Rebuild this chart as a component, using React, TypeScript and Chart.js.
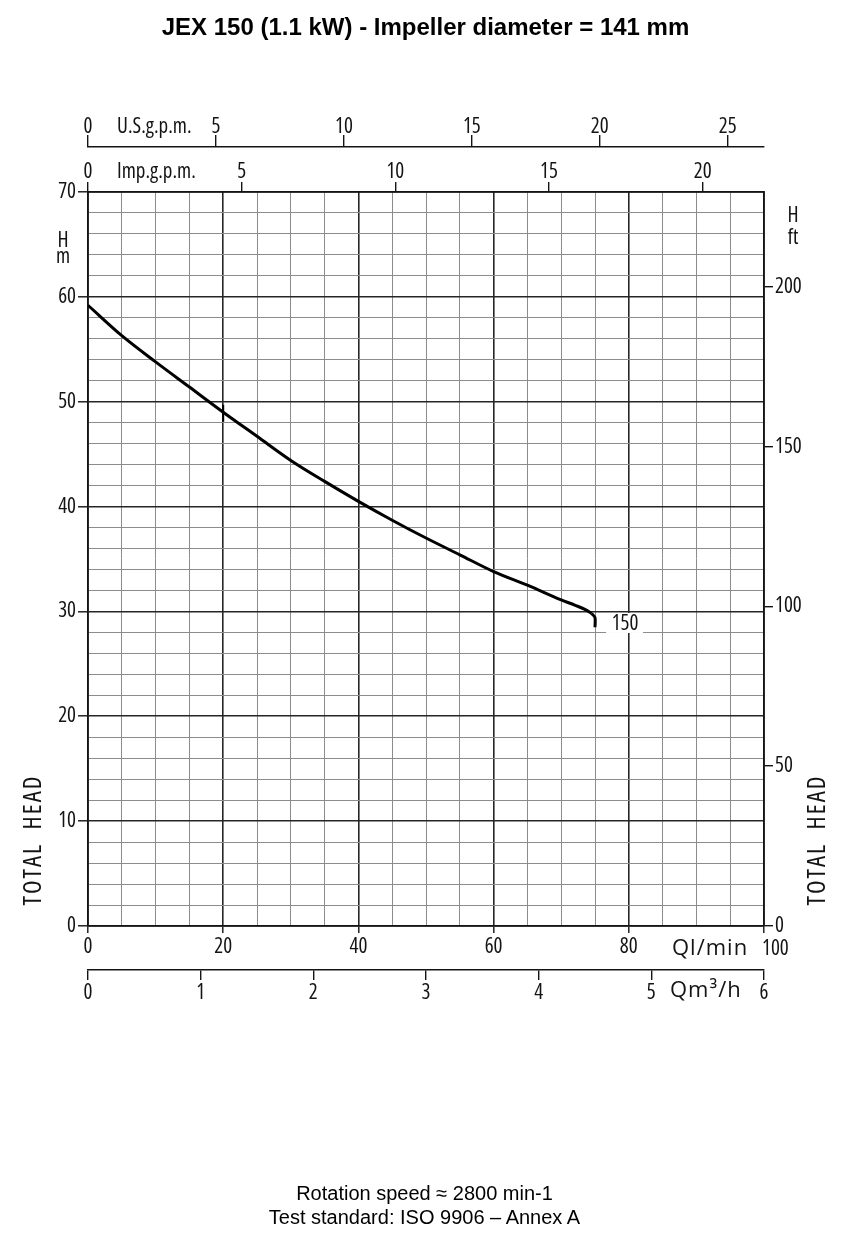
import React, { useEffect, useRef } from 'react';
import { Chart, registerables } from 'chart.js';

Chart.register(...registerables);

// ---- Data ----
const FLOW_LPM = [0, 5, 10, 15, 20, 25, 30, 35, 40, 45, 50, 55, 60, 65, 70, 72, 73.5, 74.5];
const HEAD_M = [59.2, 56.3, 53.8, 51.4, 49.0, 46.7, 44.4, 42.4, 40.5, 38.7, 37.0, 35.4, 33.8, 32.5, 31.1, 30.6, 30.2, 29.8];
const END_FLOW = [74.5, 75, 75];
const END_HEAD = [29.8, 29.4, 28.5];
const MARK_FLOW = [20, 20];
const MARK_HEAD = [49.7, 48.1];

const CURVE_LABEL = '150';
const CURVE_LABEL_AT = { x: 79.3, y: 28.9 };

// ---- Axes / ticks ----
const X_GRID = [0, 5, 10, 15, 20, 25, 30, 35, 40, 45, 50, 55, 60, 65, 70, 75, 80, 85, 90, 95, 100];
const X_LABEL_VALUES = [0, 20, 40, 60, 80, 100];
const Y_GRID = [0, 2, 4, 6, 8, 10, 12, 14, 16, 18, 20, 22, 24, 26, 28, 30, 32, 34, 36, 38, 40, 42, 44, 46, 48, 50, 52, 54, 56, 58, 60, 62, 64, 66, 68, 70];
const Y_LABEL_VALUES = [0, 10, 20, 30, 40, 50, 60, 70];
const IMP_TICKS = [0, 5, 10, 15, 20];
const US_TICKS = [0, 5, 10, 15, 20, 25];
const M3H_TICKS = [0, 1, 2, 3, 4, 5, 6];
const FT_TICKS = [0, 50, 100, 150, 200];

const X_MAX = 100;
const Y_MAX = 70;
const LPM_PER_IMP = 4.54609;
const LPM_PER_US = 3.785411784;
const LPM_PER_M3H = 1000 / 60;
const FT_PER_M = 3.28084;

const TITLE = 'JEX 150 (1.1 kW) - Impeller diameter = 141 mm';
const FOOTER_1 = 'Rotation speed \u2248 2800 min-1';
const FOOTER_2 = 'Test standard: ISO 9906 \u2013 Annex A';

const AXIS_FAMILY = "'Open Sans', 'DejaVu Sans Condensed', sans-serif";
const AXIS_WEIGHT = '400 semi-condensed';
const NARROW_WEIGHT = '400 condensed';
const AXIS_SIZE = 21;
const AXIS_FONT = { family: AXIS_FAMILY, size: AXIS_SIZE, weight: AXIS_WEIGHT as any, lineHeight: 1.2 };
const INK = '#141414';
const MAJOR = '#262626';
const MINOR = '#8c8c8c';

const isMajorX = (v: number) => v % 20 === 0;
const isMajorY = (v: number) => v % 10 === 0;

const annotations = {
  id: 'pumpAnnotations',
  afterDraw(chart: any) {
    const { ctx, chartArea: a, scales } = chart;
    const xs = scales.x;
    const ys = scales.y;
    const c: any = ctx;
    ctx.save();
    ctx.fillStyle = INK;
    ctx.textBaseline = 'alphabetic';
    ctx.textAlign = 'left';

    ctx.font = `${NARROW_WEIGHT} ${AXIS_SIZE}px ${AXIS_FAMILY}`;
    c.letterSpacing = '0px';
    ctx.fillText('U.S.g.p.m.', a.left + 29, 133);
    ctx.fillText('Imp.g.p.m.', a.left + 29, a.top - 14);

    ctx.font = `${AXIS_WEIGHT} ${AXIS_SIZE}px ${AXIS_FAMILY}`;
    ctx.fillText('100', xs.getPixelForValue(100) - 2, a.bottom + 29);

    ctx.textAlign = 'center';
    ctx.fillText('H', a.left - 25, a.top + 55);
    ctx.fillText('m', a.left - 25, a.top + 71);
    ctx.fillText('H', a.right + 29, a.top + 30);
    ctx.fillText('ft', a.right + 29, a.top + 52);

    // flow unit labels (wider lettering)
    ctx.font = `400 22px ${AXIS_FAMILY}`;
    c.letterSpacing = '1px';
    ctx.textAlign = 'left';
    ctx.fillText('Ql/min', a.right - 92, a.bottom + 29);
    ctx.fillText('Qm\u00b3/h', a.right - 94, a.bottom + 71);

    const drawRot = (x: number, y: number) => {
      ctx.save();
      ctx.translate(x, y);
      ctx.rotate(-Math.PI / 2);
      ctx.font = `400 condensed 25px ${AXIS_FAMILY}`;
      (ctx as any).letterSpacing = '2px';
      ctx.textAlign = 'center';
      ctx.textBaseline = 'middle';
      ctx.fillText('TOTAL  HEAD', 0, 0);
      ctx.restore();
    };
    drawRot(34, a.bottom - 86);
    drawRot(a.right + 54, a.bottom - 86);

    c.letterSpacing = '0px';
    ctx.font = `${AXIS_WEIGHT} ${AXIS_SIZE}px ${AXIS_FAMILY}`;
    const lx = xs.getPixelForValue(CURVE_LABEL_AT.x);
    const ly = ys.getPixelForValue(CURVE_LABEL_AT.y);
    ctx.fillStyle = '#ffffff';
    ctx.fillRect(lx - 18, ly - 10, 37, 20);
    ctx.fillStyle = INK;
    ctx.textAlign = 'center';
    ctx.textBaseline = 'middle';
    ctx.fillText(CURVE_LABEL, lx + 1, ly + 1);
    ctx.restore();
  },
};

function App() {
  const canvasRef = useRef<HTMLCanvasElement | null>(null);

  useEffect(() => {
    if (!canvasRef.current) return;
    const curve = FLOW_LPM.map((x, i) => ({ x, y: HEAD_M[i] }));
    const hook = END_FLOW.map((x, i) => ({ x, y: END_HEAD[i] }));
    const mark = MARK_FLOW.map((x, i) => ({ x, y: MARK_HEAD[i] }));

    const chart = new Chart(canvasRef.current, {
      type: 'line',
      data: {
        datasets: [
          { data: curve, borderColor: '#000', borderWidth: 3, pointRadius: 0, cubicInterpolationMode: 'monotone', fill: false },
          { data: hook, borderColor: '#000', borderWidth: 3, pointRadius: 0, tension: 0.3, fill: false },
          { data: mark, borderColor: '#000', borderWidth: 2, pointRadius: 0, tension: 0, fill: false },
        ],
      },
      options: {
        responsive: false,
        animation: false,
        devicePixelRatio: 1,
        events: [],
        layout: { padding: 0, autoPadding: false },
        plugins: { legend: { display: false }, tooltip: { enabled: false }, title: { display: false } },
        scales: {
          x: {
            type: 'linear', position: 'bottom', weight: 0, min: 0, max: X_MAX,
            afterBuildTicks: (s: any) => { s.ticks = X_GRID.map((v) => ({ value: v })); },
            afterFit: (s: any) => { s.height = 44; },
            grid: {
              color: (c: any) => (isMajorX(c.tick.value) ? MAJOR : MINOR),
              lineWidth: (c: any) => (isMajorX(c.tick.value) ? 1.6 : 1),
              tickColor: (c: any) => (isMajorX(c.tick.value) ? INK : 'rgba(0,0,0,0)'),
              tickLength: 7, tickWidth: 1.4,
            },
            border: { display: true, color: INK, width: 1.8 },
            ticks: { autoSkip: false, maxRotation: 0, padding: 1, color: INK, font: AXIS_FONT,
              callback: (v: any) => (X_LABEL_VALUES.includes(v) && v !== 100 ? String(v) : '') },
          },
          q: {
            type: 'linear', axis: 'x', position: 'bottom', weight: 1, min: 0, max: X_MAX / LPM_PER_M3H,
            afterBuildTicks: (s: any) => { s.ticks = M3H_TICKS.map((v) => ({ value: v })); },
            afterFit: (s: any) => { s.height = 272; },
            grid: { drawOnChartArea: false, tickLength: 10, color: INK, lineWidth: 1.4 },
            border: { display: true, color: INK, width: 1.6 },
            ticks: { autoSkip: false, maxRotation: 0, padding: 0, color: INK, font: AXIS_FONT, callback: (v: any) => String(v) },
          },
          imp: {
            type: 'linear', axis: 'x', position: 'top', weight: 0, min: 0, max: X_MAX / LPM_PER_IMP,
            afterBuildTicks: (s: any) => { s.ticks = IMP_TICKS.map((v) => ({ value: v })); },
            afterFit: (s: any) => { s.height = 45; },
            grid: { drawOnChartArea: false, tickLength: 10, color: INK, lineWidth: 1.4 },
            border: { display: true, color: INK, width: 1.8 },
            ticks: { autoSkip: false, maxRotation: 0, padding: -3, color: INK, font: AXIS_FONT, callback: (v: any) => String(v) },
          },
          us: {
            type: 'linear', axis: 'x', position: 'top', weight: 1, min: 0, max: X_MAX / LPM_PER_US,
            afterBuildTicks: (s: any) => { s.ticks = US_TICKS.map((v) => ({ value: v })); },
            afterFit: (s: any) => { s.height = 147; },
            grid: { drawOnChartArea: false, tickLength: 12, color: INK, lineWidth: 1.4 },
            border: { display: true, color: INK, width: 1.6 },
            ticks: { autoSkip: false, maxRotation: 0, padding: -5, color: INK, font: AXIS_FONT, callback: (v: any) => String(v) },
          },
          y: {
            type: 'linear', position: 'left', weight: 0, min: 0, max: Y_MAX,
            afterBuildTicks: (s: any) => { s.ticks = Y_GRID.map((v) => ({ value: v })); },
            afterFit: (s: any) => { s.width = 88; },
            grid: {
              color: (c: any) => (isMajorY(c.tick.value) ? MAJOR : MINOR),
              lineWidth: (c: any) => (isMajorY(c.tick.value) ? 1.6 : 1),
              tickColor: (c: any) => (isMajorY(c.tick.value) ? INK : 'rgba(0,0,0,0)'),
              tickLength: 10, tickWidth: 1.4,
            },
            border: { display: true, color: INK, width: 1.8 },
            ticks: { autoSkip: false, padding: 2, color: INK, font: AXIS_FONT,
              callback: (v: any) => (Y_LABEL_VALUES.includes(v) ? String(v) : '') },
          },
          ft: {
            type: 'linear', axis: 'y', position: 'right', weight: 0, min: 0, max: Y_MAX * FT_PER_M,
            afterBuildTicks: (s: any) => { s.ticks = FT_TICKS.map((v) => ({ value: v })); },
            afterFit: (s: any) => { s.width = 79; },
            grid: { drawOnChartArea: false, tickLength: 9, color: INK, lineWidth: 1.4 },
            border: { display: true, color: INK, width: 1.8 },
            ticks: { autoSkip: false, padding: 2, color: INK, font: AXIS_FONT, callback: (v: any) => String(v) },
          },
        },
      } as any,
      plugins: [annotations],
    });
    return () => chart.destroy();
  }, []);

  return (
    <div style={{ position: 'absolute', left: 0, top: 0, width: 843, height: 1242, background: '#fff' }}>
      <canvas ref={canvasRef} width={843} height={1242}
        style={{ position: 'absolute', left: 0, top: 0, width: 843, height: 1242 }} />
      <div style={{ position: 'absolute', left: 4, top: 12, width: 843, textAlign: 'center',
        fontFamily: "'Liberation Sans', Arial, sans-serif", fontWeight: 'bold', fontSize: 24,
        lineHeight: '30px', color: '#000' }}>
        {TITLE}
      </div>
      <div style={{ position: 'absolute', left: 3, top: 1181, width: 843, textAlign: 'center',
        fontFamily: "'Liberation Sans', Arial, sans-serif", fontSize: 20, lineHeight: '24px', color: '#000' }}>
        <div>{FOOTER_1}</div>
        <div>{FOOTER_2}</div>
      </div>
    </div>
  );
}

export default App;
